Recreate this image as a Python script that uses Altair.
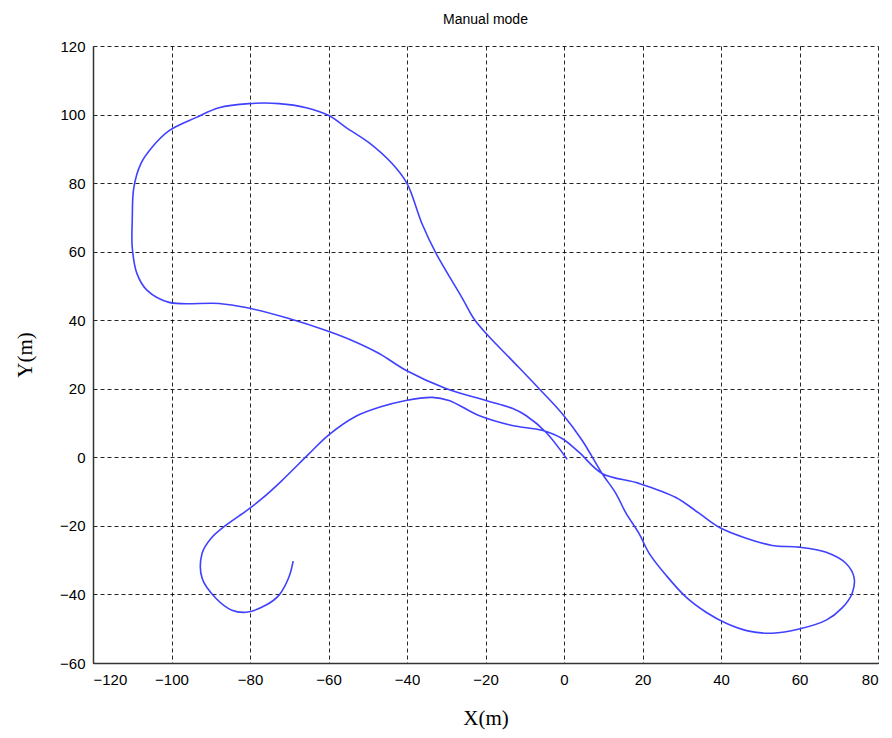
import altair as alt
import pandas as pd

# Trajectory points, in drawing order
xs = [-69.0, -70.1, -72.6, -75.9, -81.0, -84.6, -88.7, -92.2, -92.2, -89.9, -86.1, -80.8, -76.9,
      -71.8, -65.0, -60.0, -53.0, -47.1, -40.3, -33.6, -29.3, -21.7, -13.2, -5.6, -0.5, 3.8,
      9.7, 19.1, 28.5, 34.4, 39.5, 46.4, 53.0, 59.9, 66.8, 71.8, 73.9, 73.4, 70.8, 66.8, 59.9,
      53.0, 47.1, 41.3, 36.2, 31.1, 26.0, 21.7, 19.1, 15.8, 13.2, 9.7, 4.6, -0.5, -6.4, -13.0,
      -19.9, -23.0, -26.0, -32.6, -36.2, -40.0, -43.8, -49.7, -55.5, -59.9, -65.7, -72.6, -80.3,
      -87.9, -93.8, -100.6, -105.0, -107.8, -109.6, -110.0, -110.0, -108.8, -106.2, -100.6,
      -87.9, -81.0, -70.1, -60.6, -54.0, -47.1, -40.3, -30.1, -19.9, -13.2, -9.7, -4.6, 0.8]
ys = [-30.3, -35.0, -40.2, -43.1, -45.2, -44.6, -41.1, -35.3, -28.0, -23.6, -19.8, -15.5, -12.0,
      -6.7, 1.0, 6.5, 12.0, 14.6, 16.6, 17.5, 16.6, 12.2, 9.3, 7.9, 5.5, 1.5,
      -4.7, -7.6, -11.7, -16.3, -20.4, -23.6, -25.7, -26.2, -27.7, -30.9, -35.0, -39.7, -44.0,
      -47.5, -50.1, -51.3, -50.7, -48.4, -45.2, -40.8, -34.4, -28.0, -22.2, -16.3, -10.5, -4.7,
      5.0, 12.8, 20.1, 28.0, 36.2, 40.5, 46.6, 59.5, 68.2, 79.9, 85.7, 91.8, 96.2, 99.7, 102.0,
      103.2, 103.2, 102.0, 99.1, 95.3, 90.4, 85.7, 78.7, 69.1, 61.2, 53.6, 48.7, 45.2,
      44.9, 43.7, 40.5, 37.0, 34.1, 30.3, 25.4, 20.1, 16.6, 14.3, 12.2, 7.3, -0.6]

x_ticks = [-120, -100, -80, -60, -40, -20, 0, 20, 40, 60, 80]
y_ticks = [-60, -40, -20, 0, 20, 40, 60, 80, 100, 120]

df = pd.DataFrame({"x": xs, "y": ys, "i": list(range(len(xs)))})

W, H = 785, 617

chart = alt.Chart(df).mark_line(color="#4040ff", strokeWidth=1.6, interpolate="catmull-rom").encode(
    x=alt.X("x:Q", scale=alt.Scale(domain=[-120, 80], nice=False, zero=False),
            axis=alt.Axis(values=x_ticks, title="X(m)", titleFont="Liberation Serif",
                          titleFontSize=21, titleFontWeight="normal", titleColor="#000",
                          titleY=55, titleBaseline="middle",
                          labelFont="Liberation Sans", labelFontSize=15, labelColor="#000",
                          labelPadding=9, tickSize=0, domainColor="#333", domainWidth=1.5,
                          gridColor="#000", gridDash=[4, 3], gridOpacity=0.85, gridWidth=1)),
    y=alt.Y("y:Q", scale=alt.Scale(domain=[-60, 120], nice=False, zero=False),
            axis=alt.Axis(values=y_ticks, title="Y(m)", titleFont="Liberation Serif",
                          titleFontSize=21, titleFontWeight="normal", titleColor="#000",
                          titleX=-68, titleY=H / 2, titleAngle=-90, titleBaseline="middle",
                          titleAlign="center",
                          labelFont="Liberation Sans", labelFontSize=15, labelColor="#000",
                          labelPadding=8, tickSize=0, domainColor="#333", domainWidth=1.5,
                          gridColor="#000", gridDash=[4, 3], gridOpacity=0.85, gridWidth=1)),
    order="i:Q",
).properties(
    width=W, height=H,
    title=alt.TitleParams("Manual mode", font="Liberation Sans", fontSize=14,
                          fontWeight="normal", color="#000", anchor="middle", offset=12),
    autosize=alt.AutoSizeParams(type="none"),
    padding={"left": 93, "top": 46, "right": 14, "bottom": 75},
).configure_view(stroke=None)

chart.save("out.html", embed_options={"renderer": "svg", "actions": False})
